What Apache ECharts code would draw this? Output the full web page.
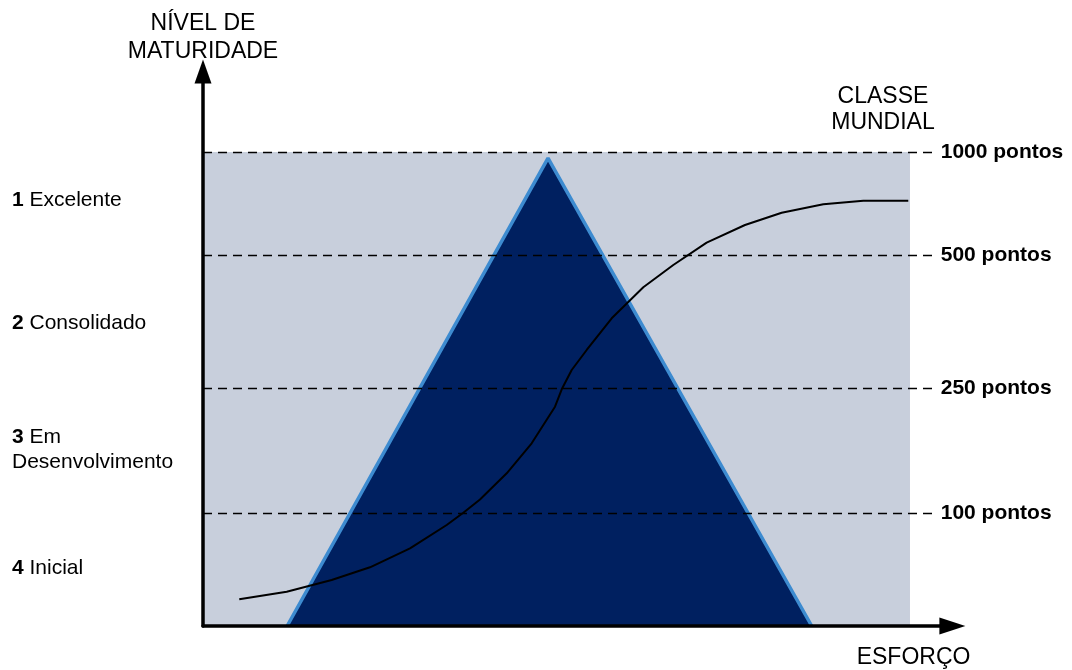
<!DOCTYPE html>
<html>
<head>
<meta charset="utf-8">
<script src="https://cdn.jsdelivr.net/npm/echarts@6/dist/echarts.min.js"></script>
<style>
  html, body { margin: 0; padding: 0; background: #fff; }
  #chart { width: 1072px; height: 670px; }
</style>
</head>
<body>
<div id="chart"></div>
<script>
// maturity levels on the left side
const levelNames = ['1|Excelente', '2|Consolidado', '3|Em\nDesenvolvimento', '4|Inicial'];
const levelValues = [89.9, 63.9, 37.1, 12.2];

// score thresholds (dashed lines)
const scoreLabels = ['1000 pontos', '500 pontos', '250 pontos', '100 pontos'];
const scoreValues = [100, 78.3, 50.2, 23.8];

// triangle (effort distribution)
const triangleX = [11.9, 48.8, 86.1];
const triangleY = [0, 98.7, 0];

// maturity curve
const curveX = [5.13, 11.84, 18.2, 23.62, 29.28, 34.47, 36.82, 39.18, 42.96, 46.49, 49.79, 50.74, 52.15, 54.27, 57.81, 62.28, 66.52, 71.24, 76.66, 81.85, 87.74, 93.4, 99.76];
const curveY = [5.63, 7.24, 9.7, 12.38, 16.39, 21.31, 23.9, 26.69, 32.22, 38.54, 46.27, 49.94, 54.01, 58.23, 64.92, 71.46, 76.16, 80.87, 84.6, 87.19, 88.97, 89.73, 89.73];

const font = 'Liberation Sans, Arial, sans-serif';

const chart = echarts.init(document.getElementById('chart'));

const labelMap = {};
levelValues.forEach((v, i) => { labelMap[v] = levelNames[i]; });

const dashLines = scoreValues.map((v, i) => [
  { coord: [0, v] },
  { coord: [103.5, v], label: { formatter: scoreLabels[i] } }
]);

chart.setOption({
  animation: false,
  textStyle: { fontFamily: font },
  title: {
    text: 'CLASSE\nMUNDIAL',
    left: 878,
    top: 79,
    textAlign: 'center',
    textStyle: { fontFamily: font, fontSize: 23, fontWeight: 'normal', color: '#000', lineHeight: 26 }
  },
  grid: { left: 203, right: 119.6, top: 71.4, bottom: 44 },
  xAxis: {
    type: 'value', min: 0, max: 106,
    z: 20,
    name: 'ESFORÇO',
    nameLocation: 'end',
    nameGap: 18,
    nameTextStyle: { fontFamily: font, fontSize: 23, color: '#000', align: 'right', verticalAlign: 'top', padding: [20, 0, 0, 0] },
    axisLine: { lineStyle: { color: '#000', width: 3.5 }, symbol: ['none', 'triangle'], symbolSize: [17, 26] },
    axisTick: { show: false },
    axisLabel: { show: false },
    splitLine: { show: false }
  },
  yAxis: {
    type: 'value', min: 0, max: 117,
    z: 20,
    name: 'NÍVEL DE\nMATURIDADE',
    nameLocation: 'end',
    nameGap: 6,
    nameTextStyle: { fontFamily: font, fontSize: 23, color: '#000', lineHeight: 28, align: 'center' },
    axisLine: { lineStyle: { color: '#000', width: 3.5 }, symbol: ['none', 'triangle'], symbolSize: [17, 24] },
    axisTick: { show: false },
    splitLine: { show: false },
    axisLabel: {
      customValues: levelValues,
      align: 'left',
      margin: 191,
      color: '#000',
      fontSize: 21,
      lineHeight: 25,
      formatter: (v) => {
        const s = labelMap[v] || '';
        const parts = s.split('|');
        return '{b|' + parts[0] + '} ' + parts[1];
      },
      rich: {
        b: { fontWeight: 'bold', fontSize: 21, fontFamily: font, color: '#000' }
      }
    }
  },
  series: [
    {
      type: 'line',
      data: [],
      z: 1,
      markArea: {
        silent: true,
        z: 1,
        itemStyle: { color: '#c8cfdc' },
        data: [[{ coord: [0, 0] }, { coord: [100, 100] }]]
      }
    },
    {
      type: 'line',
      z: 5,
      symbol: 'none',
      data: triangleX.map((x, i) => [x, triangleY[i]]),
      lineStyle: { color: '#3d8bd0', width: 3.5 },
      areaStyle: { color: '#002060', opacity: 1 }
    },
    {
      type: 'line',
      data: [],
      z: 8,
      markLine: {
        silent: true,
        z: 8,
        symbol: 'none',
        lineStyle: { color: '#000', type: [9, 6], width: 1.3 },
        label: {
          position: 'end',
          distance: 6,
          color: '#000',
          fontWeight: 'bold',
          fontSize: 21,
          fontFamily: font
        },
        data: dashLines
      }
    },
    {
      type: 'line',
      z: 11,
      symbol: 'none',
      data: curveX.map((x, i) => [x, curveY[i]]),
      lineStyle: { color: '#000', width: 2 }
    }
  ]
});
</script>
</body>
</html>
